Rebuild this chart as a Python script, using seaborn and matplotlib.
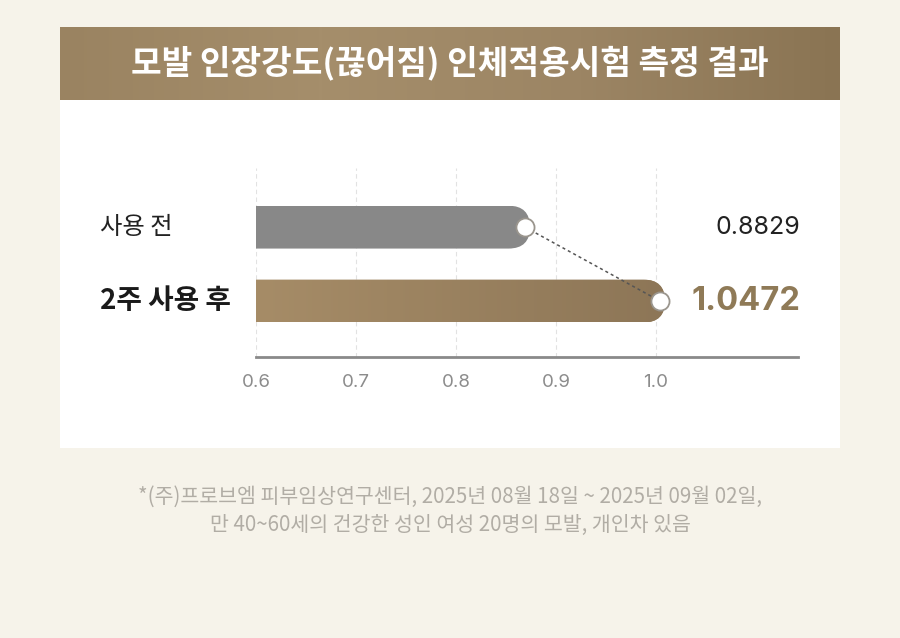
import numpy as np
import matplotlib
matplotlib.use("Agg")
import matplotlib.pyplot as plt
import matplotlib.transforms as mtransforms
from matplotlib.patches import FancyBboxPatch, Rectangle
from matplotlib.colors import LinearSegmentedColormap
import seaborn as sns

# ---- data ----
title = "모발 인장강도(끊어짐) 인체적용시험 측정 결과"
categories = ["사용 전", "2주 사용 후"]
values = [0.8829, 1.0472]          # printed values
bar_ends = [0.874, 1.009]          # bar lengths as drawn in the reference
ticks = [0.6, 0.7, 0.8, 0.9, 1.0]
tick_labels = ["0.6", "0.7", "0.8", "0.9", "1.0"]
footnote = ["*(주)프로브엠 피부임상연구센터, 2025년 08월 18일 ~ 2025년 09월 02일,",
            "만 40~60세의 건강한 성인 여성 20명의 모발, 개인차 있음"]

W, H = 900, 638
sns.set_theme(style="white")
plt.rcParams["font.family"] = ["Noto Sans CJK KR", "DejaVu Sans"]

fig = plt.figure(figsize=(W / 100, H / 100), dpi=100)
fig.patch.set_facecolor("#f6f3ea")

def fx(px):
    return px / W

def fy(py):
    return 1 - py / H

# white panel
fig.patches.append(Rectangle((fx(60), fy(448)), fx(840) - fx(60), fy(100) - fy(448),
                             transform=fig.transFigure, facecolor="white",
                             edgecolor="none", zorder=-5))

# banner with gradient
axb = fig.add_axes([fx(60), fy(100), fx(840) - fx(60), fy(27) - fy(100)])
banner_cmap = LinearSegmentedColormap.from_list(
    "banner", ["#9a8361", "#a58e6b", "#9c8564", "#8a7453"])
axb.imshow(np.linspace(0, 1, 256)[None, :], aspect="auto", cmap=banner_cmap,
           extent=(0, 1, 0, 1))
axb.set_axis_off()
fig.text(0.5, fy(63), title, color="white", fontsize=24, fontweight="bold",
         ha="center", va="center")

# main chart axes
ax = fig.add_axes([fx(256), fy(357), fx(798) - fx(256), fy(168) - fy(357)])
ax.set_zorder(2)
ax.set_facecolor("none")
colors = ["#888888", "#9c8560"]
sns.barplot(x=bar_ends, y=categories, hue=categories, palette=colors,
            orient="h", width=0.58, legend=False, ax=ax, saturation=1)
ax.set_xlim(0.6, 1.142)
ax.set_ylim(1.757, -0.8)

x_px = (fx(798) - fx(256)) * W / (1.142 - 0.6)
y_px = (fy(168) - fy(357)) * H / (1.757 + 0.8)
aspect = x_px / y_px

gold_cmap = LinearSegmentedColormap.from_list("gold", ["#a68c67", "#8d7657"])
for i, p in enumerate(sorted(ax.patches, key=lambda r: r.get_y())):
    x0, y0 = p.get_x(), p.get_y()
    w, h = p.get_width(), p.get_height()
    end = x0 + w
    shape = FancyBboxPatch((0.5, y0), end - 0.5, h,
                           boxstyle=f"round,pad=0,rounding_size={h / 2 / aspect}",
                           mutation_aspect=aspect, transform=ax.transData,
                           facecolor="none", edgecolor="none")
    ax.add_patch(shape)
    p.set_clip_path(shape)
    p.set_edgecolor("none")
    if i == 1:
        im = ax.imshow(np.linspace(0, 1, 256)[None, :], aspect="auto",
                       cmap=gold_cmap, extent=(0.6, end, y0 + h, y0), zorder=3)
        im.set_clip_path(shape)

ax.set_xlim(0.6, 1.142)
ax.set_ylim(1.757, -0.8)

# markers and connector
cx = [e - 0.005 for e in bar_ends]
cy = [0, 1]
ax.plot(cx, cy, linestyle=(0, (2, 2)), color="#555555", lw=1.1, zorder=5)
ax.scatter(cx, cy, s=170, facecolor="white", edgecolor="#9a958d", lw=1.3, zorder=6)

# grid and axes styling
ax.set_xticks(ticks)
ax.set_xticklabels(tick_labels, family=["Inter", "DejaVu Sans"])
ax.grid(axis="x", linestyle=(0, (4, 3)), color="#e2e2e2", lw=0.8)
ax.set_axisbelow(True)
ax.set_yticks([])
ax.set_ylabel("")
ax.set_xlabel("")
for s in ["top", "right", "left"]:
    ax.spines[s].set_visible(False)
ax.spines["bottom"].set_color("#8a8a8a")
ax.spines["bottom"].set_linewidth(2)
ax.tick_params(axis="x", length=0, pad=12, labelsize=13.5, labelcolor="#8c8c8c")

# labels
trans_lab = mtransforms.blended_transform_factory(fig.transFigure, ax.transData)
fig.text(fx(100), 0, categories[0], transform=trans_lab, fontsize=17.5,
         color="#222222", ha="left", va="center")
fig.text(fx(100), 1, categories[1], transform=trans_lab, fontsize=20,
         fontweight="bold", color="#1a1a1a", ha="left", va="center")

fig.text(fx(800), 0, f"{values[0]:.4f}", transform=trans_lab, fontsize=18,
         color="#222222", ha="right", va="center", family=["Inter", "DejaVu Sans"])
fig.text(fx(800), 1, f"{values[1]:.4f}", transform=trans_lab, fontsize=23.5,
         fontweight="bold", color="#8f7a57", ha="right", va="center",
         family=["Inter", "DejaVu Sans"])

# footnote
fig.text(0.5, fy(497), footnote[0], fontsize=14.8, color="#b1ada5",
         ha="center", va="center")
fig.text(0.5, fy(525), footnote[1], fontsize=14.8, color="#b1ada5",
         ha="center", va="center")

fig.savefig("out.png", dpi=100, facecolor=fig.get_facecolor())
